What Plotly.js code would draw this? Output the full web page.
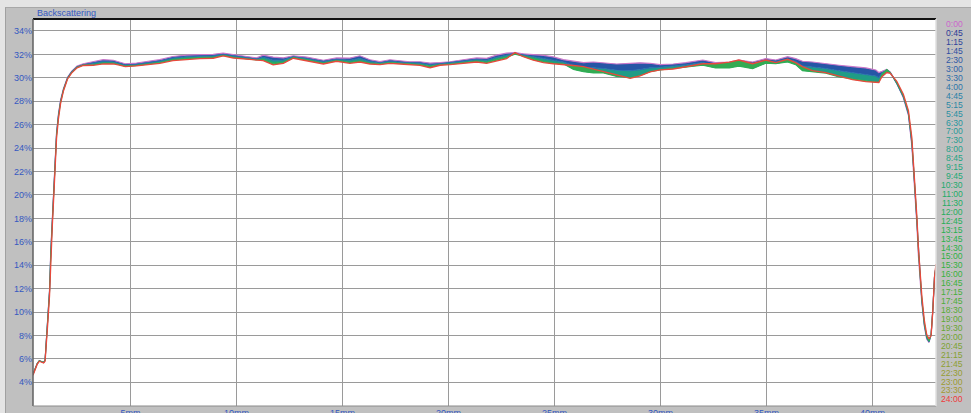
<!DOCTYPE html>
<html>
<head>
<meta charset="utf-8">
<script src="https://cdn.plot.ly/plotly-3.0.1.min.js"></script>
<style>
  html, body { margin: 0; padding: 0; background: #c0c0c0; }
  #chart { width: 971px; height: 413px; }
</style>
</head>
<body>
<div id="chart"></div>
<script>
// Measuring cell height (mm) at which each backscattering value was recorded
const positionMm = [
  0.40, 0.50, 0.60, 0.70, 0.80, 0.90, 0.97, 1.04, 1.11, 1.18,
  1.24, 1.31, 1.37, 1.46, 1.51, 1.60, 1.70, 1.84, 2.03, 2.22,
  2.48, 2.77, 3.24, 3.71, 4.19, 4.42, 4.75, 5.28, 5.76, 6.38,
  7.00, 7.64, 8.27, 8.90, 9.37, 9.85, 10.48, 10.95, 11.26, 11.73,
  12.21, 12.68, 13.31, 14.10, 14.72, 15.35, 15.82, 16.30, 16.77, 17.24,
  17.71, 18.18, 18.66, 19.13, 19.60, 20.07, 20.70, 21.33, 21.80, 22.27,
  22.74, 23.14, 23.53, 24.00, 24.48, 24.95, 25.42, 25.90, 26.37, 26.84,
  27.31, 27.94, 28.57, 29.04, 29.51, 29.98, 30.60, 31.20, 32.00, 32.60,
  33.25, 33.70, 34.35, 34.97, 35.44, 36.00, 36.38, 36.70, 37.17, 37.80,
  38.43, 39.06, 39.69, 40.16, 40.30, 40.45, 40.68, 40.84, 41.15, 41.46,
  41.70, 41.86, 41.94, 42.02, 42.10, 42.17, 42.25, 42.33, 42.45, 42.56,
  42.67, 42.77, 42.85, 42.93, 43.00
];

// Backscattering (%) profiles at selected ageing times
const bs_0h00 = [
  4.7, 5.2, 5.6, 5.85, 5.75, 5.7, 5.9, 7.9, 9.9, 11.9,
  15.3, 18.0, 20.2, 23.8, 25.3, 26.9, 28.1, 29.1, 30.05, 30.55,
  31.0, 31.2, 31.38, 31.55, 31.5, 31.38, 31.2, 31.26, 31.38, 31.55,
  31.82, 31.94, 31.97, 32.0, 32.1, 32.0, 31.82, 31.7, 31.94, 31.77,
  31.7, 31.88, 31.77, 31.5, 31.7, 31.68, 31.88, 31.54, 31.38, 31.54,
  31.43, 31.37, 31.37, 31.26, 31.3, 31.37, 31.54, 31.7, 31.66, 31.94,
  32.1, 32.15, 32.05, 31.98, 31.92, 31.78, 31.55, 31.42, 31.3, 31.35,
  31.25, 31.18, 31.24, 31.28, 31.24, 31.12, 31.18, 31.29, 31.52, 31.29,
  31.35, 31.52, 31.35, 31.64, 31.52, 31.8, 31.64, 31.41, 31.35, 31.24,
  31.07, 30.95, 30.84, 30.67, 30.45, 30.55, 30.72, 30.5, 29.55, 28.3,
  26.8, 24.2, 22.2, 19.9, 17.4, 14.8, 12.8, 10.8, 8.8, 7.7,
  7.4, 8.1, 10.2, 13.0, 13.9
];
const bs_4h00 = [
  4.7, 5.2, 5.6, 5.85, 5.75, 5.7, 5.9, 7.8, 9.8, 11.8,
  15.1, 17.8, 20.0, 23.6, 25.2, 26.8, 28.0, 29.0, 30.0, 30.5,
  30.95, 31.12, 31.25, 31.4, 31.35, 31.25, 31.08, 31.15, 31.26, 31.42,
  31.68, 31.8, 31.84, 31.87, 32.0, 31.88, 31.72, 31.6, 31.75, 31.5,
  31.52, 31.8, 31.65, 31.38, 31.58, 31.5, 31.65, 31.4, 31.28, 31.42,
  31.33, 31.27, 31.25, 31.12, 31.2, 31.27, 31.42, 31.57, 31.5, 31.76,
  31.92, 32.08, 31.95, 31.8, 31.65, 31.5, 31.35, 31.05, 30.9, 30.85,
  30.8, 30.65, 30.6, 30.7, 30.85, 30.9, 31.0, 31.1, 31.3, 31.05,
  31.1, 31.25, 31.05, 31.45, 31.38, 31.6, 31.4, 31.0, 30.92, 30.8,
  30.6, 30.45, 30.3, 30.15, 30.0, 30.4, 30.68, 30.45, 29.5, 28.35,
  26.9, 24.4, 22.4, 20.1, 17.6, 15.0, 13.0, 11.0, 8.9, 7.8,
  7.45, 8.1, 10.2, 13.0, 13.9
];
const bs_15h00 = [
  4.7, 5.2, 5.6, 5.85, 5.75, 5.7, 5.9, 7.7, 9.7, 11.7,
  15.0, 17.7, 19.9, 23.5, 25.1, 26.7, 27.9, 29.0, 29.95, 30.45,
  30.9, 31.08, 31.12, 31.25, 31.25, 31.15, 31.0, 31.06, 31.17, 31.3,
  31.55, 31.66, 31.72, 31.74, 31.92, 31.76, 31.63, 31.52, 31.57, 31.25,
  31.33, 31.72, 31.53, 31.25, 31.47, 31.32, 31.42, 31.25, 31.18, 31.3,
  31.24, 31.18, 31.14, 30.98, 31.12, 31.18, 31.3, 31.43, 31.33, 31.58,
  31.75, 32.02, 31.85, 31.6, 31.4, 31.25, 31.2, 30.7, 30.52, 30.42,
  30.42, 30.12, 30.0, 30.2, 30.52, 30.67, 30.8, 30.9, 31.07, 30.84,
  30.84, 31.0, 30.78, 31.24, 31.2, 31.35, 31.12, 30.61, 30.5, 30.4,
  30.07, 29.9, 29.72, 29.6, 29.6, 30.3, 30.7, 30.45, 29.55, 28.45,
  27.0, 24.6, 22.6, 20.3, 17.8, 15.2, 13.1, 11.1, 9.0, 7.9,
  7.5, 8.1, 10.2, 13.0, 13.9
];
const bs_24h00 = [
  4.6, 5.1, 5.55, 5.8, 5.75, 5.65, 5.8, 7.4, 9.4, 11.4,
  14.6, 17.3, 19.5, 23.1, 24.8, 26.5, 27.8, 28.9, 29.9, 30.4,
  30.85, 31.05, 31.07, 31.18, 31.18, 31.1, 30.95, 31.01, 31.12, 31.24,
  31.47, 31.58, 31.64, 31.67, 31.87, 31.69, 31.58, 31.47, 31.47, 31.1,
  31.24, 31.67, 31.47, 31.18, 31.41, 31.24, 31.35, 31.18, 31.12, 31.24,
  31.18, 31.12, 31.07, 30.86, 31.07, 31.12, 31.24, 31.35, 31.24, 31.47,
  31.64, 32.15, 31.8, 31.5, 31.3, 31.2, 31.15, 31.05, 30.95, 30.72,
  30.52, 30.24, 29.96, 30.16, 30.5, 30.67, 30.75, 30.95, 31.2, 31.2,
  31.33, 31.52, 31.2, 31.52, 31.3, 31.58, 31.3, 30.95, 30.61, 30.45,
  30.12, 29.84, 29.67, 29.59, 29.6, 30.1, 30.45, 30.38, 29.7, 28.6,
  27.2, 24.9, 22.9, 20.6, 18.1, 15.5, 13.4, 11.4, 9.3, 8.1,
  7.7, 8.0, 10.1, 13.0, 14.1
];

// Scan times listed down the right-hand side
const scanTimes = [
  "0:00", "0:45", "1:15", "1:45", "2:30", "3:00", "3:30", "4:00", "4:45", "5:15",
  "5:45", "6:30", "7:00", "7:30", "8:00", "8:45", "9:15", "9:45", "10:30", "11:00",
  "11:30", "12:00", "12:45", "13:15", "13:45", "14:30", "15:00", "15:30", "16:00", "16:45",
  "17:15", "17:45", "18:30", "19:00", "19:30", "20:00", "20:45", "21:15", "21:45", "22:30",
  "23:00", "23:30", "24:00"
];
const scanColors = [
  "#cc66cc", "#2e3a96", "#2f449c", "#2f4ea2", "#2e58a6", "#2d62a9", "#2c6caa", "#2b76aa", "#2a80a8", "#2a88a5",
  "#2a8fa2", "#29959e", "#289a98", "#279e91", "#26a18a", "#25a483", "#24a67c", "#23a875", "#22aa6e", "#22ac68",
  "#22ad62", "#23ae5c", "#24af57", "#26b052", "#28b14d", "#2bb148", "#2eb144", "#32b140", "#37b13d", "#3db03b",
  "#44af39", "#4cad37", "#55ab35", "#5ea934", "#68a733", "#72a532", "#7ca332", "#85a131", "#8e9f31", "#969d31",
  "#9c9b31", "#a29931", "#ee3b3b"
];

// Axis ticks
const xTickVals = [5, 10, 15, 20, 25, 30, 35, 40];
const xTickText = xTickVals.map(v => v + "mm");
const yTickVals = [4, 6, 8, 10, 12, 14, 16, 18, 20, 22, 24, 26, 28, 30, 32, 34];
const yTickText = yTickVals.map(v => v + "%");

// ---- drawing ----
const W = 971, H = 413;
const M = { l: 33, r: 35, t: 19, b: 7 };
const plotW = W - M.l - M.r, plotH = H - M.t - M.b;
const pxX = px => (px - M.l) / plotW;
const pxY = py => (H - M.b - py) / plotH;

const FONT = "Liberation Sans, Arial, sans-serif";
const AXIS_BLUE = "#3558c0";

function profile(name, y, lineColor, lineWidth, fillColor) {
  const t = {
    type: "scatter", mode: "lines", name: name,
    x: positionMm, y: y,
    line: { color: lineColor, width: lineWidth },
    showlegend: false, hoverinfo: "skip"
  };
  if (fillColor) { t.fill = "tonexty"; t.fillcolor = fillColor; }
  return t;
}

const traces = [
  profile("0:00", bs_0h00, "#c977c9", 1.2),
  profile("4:00", bs_4h00, "#2a6fae", 1.1, "#2656a6"),
  profile("15:00", bs_15h00, "#2eae55", 1.1, "#1f9c86"),
  profile("24:00", bs_24h00, "#e8483c", 1.3, "#34aa52")
];

const annotations = [{
  text: "Backscattering", xref: "paper", yref: "paper",
  x: pxX(35), y: pxY(13), xanchor: "left", yanchor: "middle",
  showarrow: false, font: { family: FONT, size: 9, color: AXIS_BLUE }
}];
scanTimes.forEach((t, i) => {
  annotations.push({
    text: t, xref: "paper", yref: "paper",
    x: pxX(964), y: pxY(24.3 + i * 8.93), xanchor: "right", yanchor: "middle",
    borderpad: 0,
    showarrow: false, font: { family: FONT, size: 8.6, color: scanColors[i] }
  });
});

const shapes = [
  // light outer strip along top and left
  { type: "rect", xref: "paper", yref: "paper", x0: pxX(0), x1: pxX(W), y0: pxY(7), y1: pxY(0),
    fillcolor: "#e4e4e4", line: { width: 0 }, layer: "below" },
  { type: "rect", xref: "paper", yref: "paper", x0: pxX(0), x1: pxX(5), y0: pxY(H), y1: pxY(7),
    fillcolor: "#e4e4e4", line: { width: 0 }, layer: "below" },
  { type: "line", xref: "paper", yref: "paper", x0: pxX(5), x1: pxX(W), y0: pxY(7.5), y1: pxY(7.5),
    line: { color: "#a8a8a8", width: 1 } },
  { type: "line", xref: "paper", yref: "paper", x0: pxX(5.5), x1: pxX(5.5), y0: pxY(H), y1: pxY(7.5),
    line: { color: "#a0a0a0", width: 1 } },
  // plot frame
  { type: "line", xref: "paper", yref: "paper", x0: 0, x1: 1, y0: 1, y1: 1,
    line: { color: "#111111", width: 2 } },
  { type: "line", xref: "paper", yref: "paper", x0: 0, x1: 0, y0: 0, y1: 1,
    line: { color: "#606060", width: 1.5 } },
  { type: "line", xref: "paper", yref: "paper", x0: 0, x1: 1, y0: 0, y1: 0,
    line: { color: "#8a8a8a", width: 1 } },
  { type: "line", xref: "paper", yref: "paper", x0: 1, x1: 1, y0: 0, y1: 1,
    line: { color: "#e0e0e0", width: 1.5 } }
];

const layout = {
  width: W, height: H,
  margin: M,
  paper_bgcolor: "#c0c0c0",
  plot_bgcolor: "#ffffff",
  showlegend: false,
  xaxis: {
    range: [0.4, 43.0],
    tickvals: xTickVals, ticktext: xTickText,
    showgrid: true, gridcolor: "#9a9a9a", gridwidth: 1,
    zeroline: false, showline: false, ticks: "",
    tickfont: { family: FONT, size: 9, color: AXIS_BLUE }
  },
  yaxis: {
    range: [1.98, 35.02],
    tickvals: yTickVals, ticktext: yTickText,
    showgrid: true, gridcolor: "#9a9a9a", gridwidth: 1,
    zeroline: false, showline: false, ticks: "",
    tickfont: { family: FONT, size: 9, color: AXIS_BLUE }
  },
  annotations: annotations,
  shapes: shapes
};

Plotly.newPlot("chart", traces, layout, { staticPlot: true, displayModeBar: false });
</script>
</body>
</html>
